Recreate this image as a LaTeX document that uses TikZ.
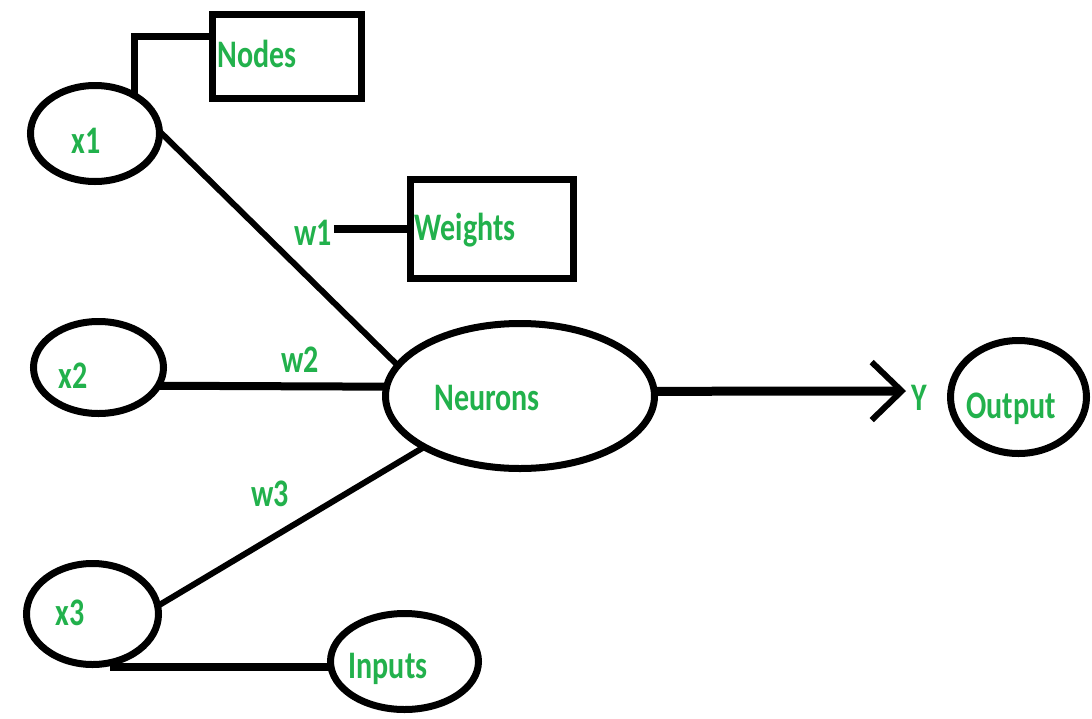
\documentclass[tikz,border=0pt]{standalone}
\usepackage{fontspec}
\setmainfont{Carlito}
\usepackage{graphicx}
\usetikzlibrary{shapes.geometric,arrows.meta}
\definecolor{paintgreen}{HTML}{22B14C}
% tall, narrow lettering
\newcommand\tallword[1]{\scalebox{1}[1.3]{#1}}
\begin{document}
\begin{tikzpicture}[x=1pt,y=-1pt,
  oval/.style={draw,ellipse,line width=7pt,inner sep=0pt,outer sep=0pt},
  labelbox/.style={draw,rectangle,line width=7pt,inner sep=0pt,outer sep=0pt},
  word/.style={text=paintgreen,font=\fontsize{30}{30}\selectfont\bfseries,inner sep=2pt,anchor=base},
  link/.style={line width=6pt},
  bar/.style={line width=8pt},
]
\fill[white] (0,0) rectangle (1092,718);
\useasboundingbox (0,0) rectangle (1092,718);

% ovals and boxes
\node[oval,minimum width=129pt,minimum height=96pt]  (x1)     at (95,133.5)   {};
\node[oval,minimum width=130pt,minimum height=92pt]  (x2)     at (98.5,367.5) {};
\node[oval,minimum width=132pt,minimum height=101pt] (x3)     at (92.5,614)   {};
\node[oval,minimum width=269pt,minimum height=145pt] (neuron) at (520,396)    {};
\node[oval,minimum width=148pt,minimum height=96pt]  (inputs) at (404.5,661.5){};
\node[oval,minimum width=136pt,minimum height=113pt] (output) at (1018.5,397) {};
\node[labelbox,minimum width=149pt,minimum height=84pt] (nodesbox)   at (287,56.5) {};
\node[labelbox,minimum width=163pt,minimum height=99pt] (weightsbox) at (492,229)  {};

% texts
\node[word] (lx1)      at (86,153)   {\tallword{x1}};
\node[word] (lx2)      at (73,388)   {\tallword{x2}};
\node[word] (lx3)      at (70,625)   {\tallword{x3}};
\node[word] (lnodes)   at (257,67)   {\tallword{Nodes}};
\node[word] (lweights) at (465,240)  {\tallword{Weights}};
\node[word] (w1)       at (313,245)  {\tallword{w1}};
\node[word] (w2)       at (300,372)  {\tallword{w2}};
\node[word] (w3)       at (270,506)  {\tallword{w3}};
\node[word] (lneuron)  at (487,410)  {\tallword{Neurons}};
\node[word] (ly)       at (919,410)  {\tallword{Y}};
\node[word] (loutput)  at (1011,418) {\tallword{Output}};
\node[word] (linputs)  at (388,678)  {\tallword{Inputs}};

% connectors
\draw[link] (x1.2) -- (neuron.166);
\draw[bar]  (x2.-17) -- (neuron.176);
\draw[link] (x3.7) -- (neuron.208);
\draw[bar]  (inputs.184) -- (inputs.184 -| x3.-70);
\draw[line width=7pt] (x1.44) |- ([yshift=20pt]nodesbox.west);
\draw[bar]  (w1.east |- weightsbox.west) -- (weightsbox.west);

\coordinate (ytip) at (906,391);
\draw[line width=9pt,-{Straight Barb[length=30pt,width=58pt,line width=6pt]}]
  (neuron.2) -- (ytip);
\end{tikzpicture}
\end{document}
